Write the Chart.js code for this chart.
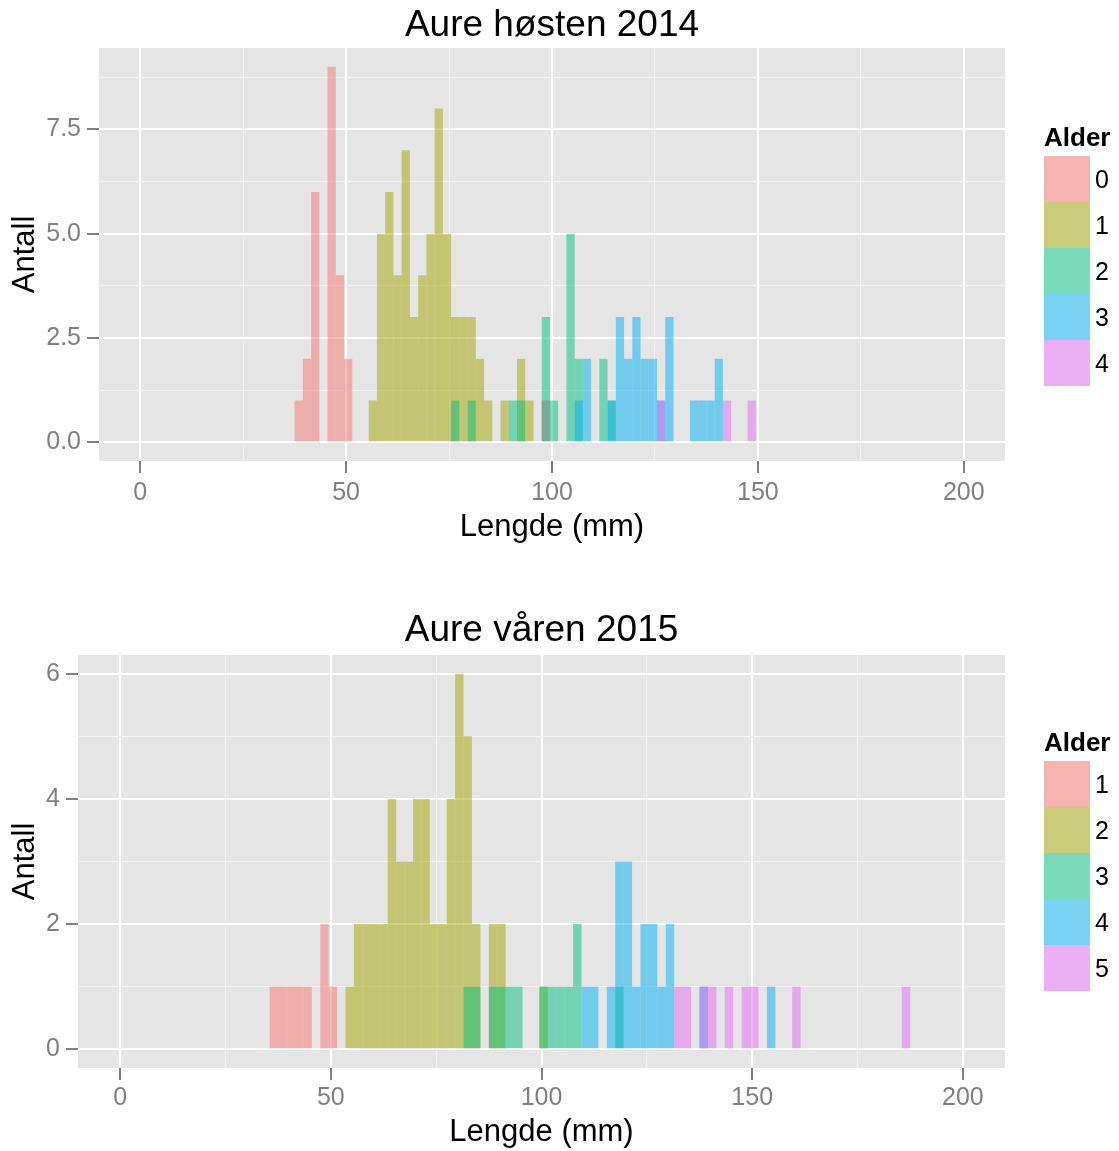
<!DOCTYPE html>
<html lang="no">
<head>
<meta charset="utf-8">
<title>Aure - lengdefordeling</title>
<script src="https://cdn.jsdelivr.net/npm/chart.js@4.4.0/dist/chart.umd.min.js"></script>
<style>
    body { margin: 0; background: #fff; }
    #side { position: relative; width: 1119px; height: 1151px; font-family: "Liberation Sans", Arial, sans-serif; }
    canvas { position: absolute; left: 0; }
    #chartHoest { top: 0; }
    #chartVaar { top: 604px; }
    .forklaring { position: absolute; left: 1044px; color: #000; }
    .forklaring .tittel { font-weight: bold; font-size: 26px; height: 38px; line-height: 38px; }
    .forklaring .rad { display: flex; align-items: center; height: 46px; }
    .forklaring .nokkel { width: 46px; height: 46px; background: #F2F2F2; }
    .forklaring .nokkel span { display: block; width: 100%; height: 100%; }
    .forklaring .etikett { margin-left: 5px; font-size: 25px; }
</style>
</head>
<body>
<div id="side">
    <canvas id="chartHoest" width="1119" height="560"></canvas>
    <canvas id="chartVaar" width="1119" height="547"></canvas>
</div>

<script>
// Lengdeklasser på 2 mm: [midtpunkt (mm), antall]

// Høsten 2014
var hoestAlder0 = [[38.5, 1], [40.5, 2], [42.5, 6], [46.5, 9], [48.5, 4], [50.5, 2]];
var hoestAlder1 = [[56.5, 1], [58.5, 5], [60.5, 6], [62.5, 4], [64.5, 7], [66.5, 3], [68.5, 4],
                   [70.5, 5], [72.5, 8], [74.5, 5], [76.5, 3], [78.5, 3], [80.5, 3], [82.5, 2],
                   [84.5, 1], [88.5, 1], [92.5, 2], [94.5, 1]];
var hoestAlder2 = [[76.5, 1], [80.5, 1], [90.5, 1], [92.5, 1], [98.5, 3], [100.5, 1], [104.5, 5],
                   [106.5, 2], [112.5, 2], [114.5, 1]];
var hoestAlder3 = [[106.5, 1], [108.5, 2], [114.5, 1], [116.5, 3], [118.5, 2], [120.5, 3], [122.5, 2],
                   [124.5, 2], [126.5, 1], [128.5, 3], [134.5, 1], [136.5, 1], [138.5, 1], [140.5, 2]];
var hoestAlder4 = [[126.5, 1], [142.5, 1], [148.5, 1]];
var hoestUkjent = [[98.5, 1]];

// Våren 2015
var vaarAlder1 = [[36.5, 1], [38.5, 1], [40.5, 1], [42.5, 1], [44.5, 1], [48.5, 2], [50.5, 1]];
var vaarAlder2 = [[54.5, 1], [56.5, 2], [58.5, 2], [60.5, 2], [62.5, 2], [64.5, 4], [66.5, 3],
                  [68.5, 3], [70.5, 4], [72.5, 4], [74.5, 2], [76.5, 2], [78.5, 4], [80.5, 6],
                  [82.5, 5], [84.5, 2], [88.5, 2], [90.5, 2], [100.5, 1]];
var vaarAlder3 = [[82.5, 1], [84.5, 1], [88.5, 1], [90.5, 1], [92.5, 1], [94.5, 1], [100.5, 1],
                  [102.5, 1], [104.5, 1], [106.5, 1], [108.5, 2], [118.5, 1]];
var vaarAlder4 = [[110.5, 1], [112.5, 1], [116.5, 1], [118.5, 3], [120.5, 3], [122.5, 1], [124.5, 2],
                  [126.5, 2], [128.5, 1], [130.5, 2], [138.5, 1], [154.5, 1]];
var vaarAlder5 = [[132.5, 1], [134.5, 1], [138.5, 1], [140.5, 1], [144.5, 1], [148.5, 1], [150.5, 1],
                  [160.5, 1], [186.5, 1]];

var alderHoest = ['0', '1', '2', '3', '4'];
var alderVaar = ['1', '2', '3', '4', '5'];

// Akser
var xTicks = [0, 50, 100, 150, 200];
var xMinor = [25, 75, 125, 175];
var yTicksHoest = [0, 2.5, 5, 7.5];
var yLabelsHoest = ['0.0', '2.5', '5.0', '7.5'];
var yMinorHoest = [1.25, 3.75, 6.25, 8.75];
var yTicksVaar = [0, 2, 4, 6];
var yLabelsVaar = ['0', '2', '4', '6'];
var yMinorVaar = [1, 3, 5];

// ggplot-farger (hue), halvgjennomsiktige
var farger = ['#F8766D', '#A3A500', '#00BF7D', '#00B0F6', '#E76BF3'];
var graaNA = '#7F7F7F';
var FONT = '"Liberation Sans", Arial, sans-serif';

function rgba(hex, a) {
    var n = parseInt(hex.slice(1), 16);
    return 'rgba(' + (n >> 16) + ',' + ((n >> 8) & 255) + ',' + (n & 255) + ',' + a + ')';
}

// grå panelbakgrunn bak rutenettet
var panelBakgrunn = {
    id: 'panelBakgrunn',
    beforeDraw: function (chart) {
        var a = chart.chartArea, c = chart.ctx;
        c.save();
        c.fillStyle = '#E5E5E5';
        c.fillRect(a.left, a.top, a.right - a.left, a.bottom - a.top);
        c.restore();
    }
};

var app = {};

app.aure = {

    init: function () {
        this.hoest = this.lagHistogram('chartHoest', {
            tittel: 'Aure høsten 2014',
            tittelPadding: {top: 3.6, bottom: 0},
            serier: [hoestAlder0, hoestAlder1, hoestAlder2, hoestAlder3, hoestAlder4],
            ukjent: hoestUkjent,
            alder: alderHoest,
            yTicks: yTicksHoest, yLabels: yLabelsHoest, yMinor: yMinorHoest,
            yBredde: 99, xHoyde: 99, xTittelBunn: 14, xTickPadding: 5
        });
        this.vaar = this.lagHistogram('chartVaar', {
            tittel: 'Aure våren 2015',
            tittelPadding: {top: 4.8, bottom: 1.8},
            serier: [vaarAlder1, vaarAlder2, vaarAlder3, vaarAlder4, vaarAlder5],
            ukjent: null,
            alder: alderVaar,
            yTicks: yTicksVaar, yLabels: yLabelsVaar, yMinor: yMinorVaar,
            yBredde: 78, xHoyde: 83, xTittelBunn: 0, xTickPadding: 3
        });

        this.lagForklaring(this.hoest, 118);
        this.lagForklaring(this.vaar, 723);
    },

    lagHistogram: function (canvasId, o) {
        var ctx = document.getElementById(canvasId).getContext('2d');

        var datasets = o.serier.map(function (serie, i) {
            return {
                label: o.alder[i],
                data: serie.map(function (p) { return {x: p[0], y: p[1]}; }),
                backgroundColor: rgba(farger[i], 0.5),
                borderWidth: 0,
                order: -i          // yngste alder tegnes først (nederst)
            };
        });
        if (o.ukjent) {
            datasets.push({
                label: 'NA',
                data: o.ukjent.map(function (p) { return {x: p[0], y: p[1]}; }),
                backgroundColor: rgba(graaNA, 0.5),
                borderWidth: 0,
                order: -10
            });
        }

        var maxAntall = 0;
        o.serier.forEach(function (s) {
            s.forEach(function (p) { maxAntall = Math.max(maxAntall, p[1]); });
        });

        var xGrid = xTicks.concat(xMinor).sort(function (a, b) { return a - b; });
        var yGrid = o.yTicks.concat(o.yMinor).sort(function (a, b) { return a - b; });

        var gridValg = function (minor) {
            return {
                offset: false,
                drawTicks: true,
                tickLength: 12,
                color: function (c) { return c.tick && minor.indexOf(c.tick.value) >= 0 ? '#F2F2F2' : '#FFFFFF'; },
                lineWidth: function (c) { return c.tick && minor.indexOf(c.tick.value) >= 0 ? 1 : 2; },
                tickColor: function (c) { return c.tick && minor.indexOf(c.tick.value) >= 0 ? 'rgba(0,0,0,0)' : '#7F7F7F'; },
                tickWidth: 2
            };
        };

        return new Chart(ctx, {
            type: 'bar',
            data: {datasets: datasets},
            plugins: [panelBakgrunn],
            options: {
                responsive: false,
                animation: false,
                devicePixelRatio: 1,
                layout: {padding: {left: 0, right: 114, top: 0, bottom: 0}},
                datasets: {
                    bar: {grouped: false, barPercentage: 1, categoryPercentage: 1, inflateAmount: 0}
                },
                plugins: {
                    legend: {
                        display: false,
                        labels: {
                            filter: function (item) { return item.text !== 'NA'; }
                        }
                    },
                    tooltip: {enabled: false},
                    title: {
                        display: true,
                        text: o.tittel,
                        fullSize: false,
                        color: '#000',
                        font: {family: FONT, size: 37, weight: 'normal'},
                        padding: o.tittelPadding
                    }
                },
                scales: {
                    x: {
                        type: 'linear',
                        offset: false,
                        min: -10,
                        max: 210,
                        border: {display: false},
                        grid: gridValg(xMinor),
                        afterBuildTicks: function (scale) {
                            scale.ticks = xGrid.map(function (v) { return {value: v}; });
                        },
                        afterFit: function (scale) { scale.height = o.xHoyde; },
                        ticks: {
                            autoSkip: false,
                            maxRotation: 0,
                            padding: o.xTickPadding,
                            color: '#7F7F7F',
                            font: {family: FONT, size: 25},
                            callback: function (v) { return xTicks.indexOf(v) >= 0 ? String(v) : ''; }
                        },
                        title: {
                            display: true,
                            text: 'Lengde (mm)',
                            color: '#000',
                            font: {family: FONT, size: 31},
                            padding: {top: 0, bottom: o.xTittelBunn}
                        }
                    },
                    y: {
                        min: -0.05 * maxAntall,
                        max: 1.05 * maxAntall,
                        border: {display: false},
                        grid: gridValg(o.yMinor),
                        afterBuildTicks: function (scale) {
                            scale.ticks = yGrid.map(function (v) { return {value: v}; });
                        },
                        afterFit: function (scale) { scale.width = o.yBredde; },
                        ticks: {
                            autoSkip: false,
                            padding: 6,
                            color: '#7F7F7F',
                            font: {family: FONT, size: 25},
                            callback: function (v) {
                                var i = o.yTicks.indexOf(v);
                                return i >= 0 ? o.yLabels[i] : '';
                            }
                        },
                        title: {
                            display: true,
                            text: 'Antall',
                            color: '#000',
                            font: {family: FONT, size: 31},
                            padding: {top: 7, bottom: 0}
                        }
                    }
                }
            }
        });
    },

    // HTML-forklaring (Alder) ved siden av panelet
    lagForklaring: function (chart, topp) {
        var valg = chart.options.plugins.legend.labels;
        var items = valg.generateLabels(chart)
            .filter(function (it) { return valg.filter(it, chart.data); })
            .sort(function (a, b) { return a.datasetIndex - b.datasetIndex; });

        var boks = document.createElement('div');
        boks.className = 'forklaring';
        boks.style.top = topp + 'px';

        var tittel = document.createElement('div');
        tittel.className = 'tittel';
        tittel.textContent = 'Alder';
        boks.appendChild(tittel);

        items.forEach(function (it) {
            var rad = document.createElement('div');
            rad.className = 'rad';
            var nokkel = document.createElement('div');
            nokkel.className = 'nokkel';
            var farge = document.createElement('span');
            farge.style.background = it.fillStyle;
            nokkel.appendChild(farge);
            var tekst = document.createElement('span');
            tekst.className = 'etikett';
            tekst.textContent = it.text;
            rad.appendChild(nokkel);
            rad.appendChild(tekst);
            boks.appendChild(rad);
        });

        document.getElementById('side').appendChild(boks);
    }
};

app.aure.init();
</script>
</body>
</html>
